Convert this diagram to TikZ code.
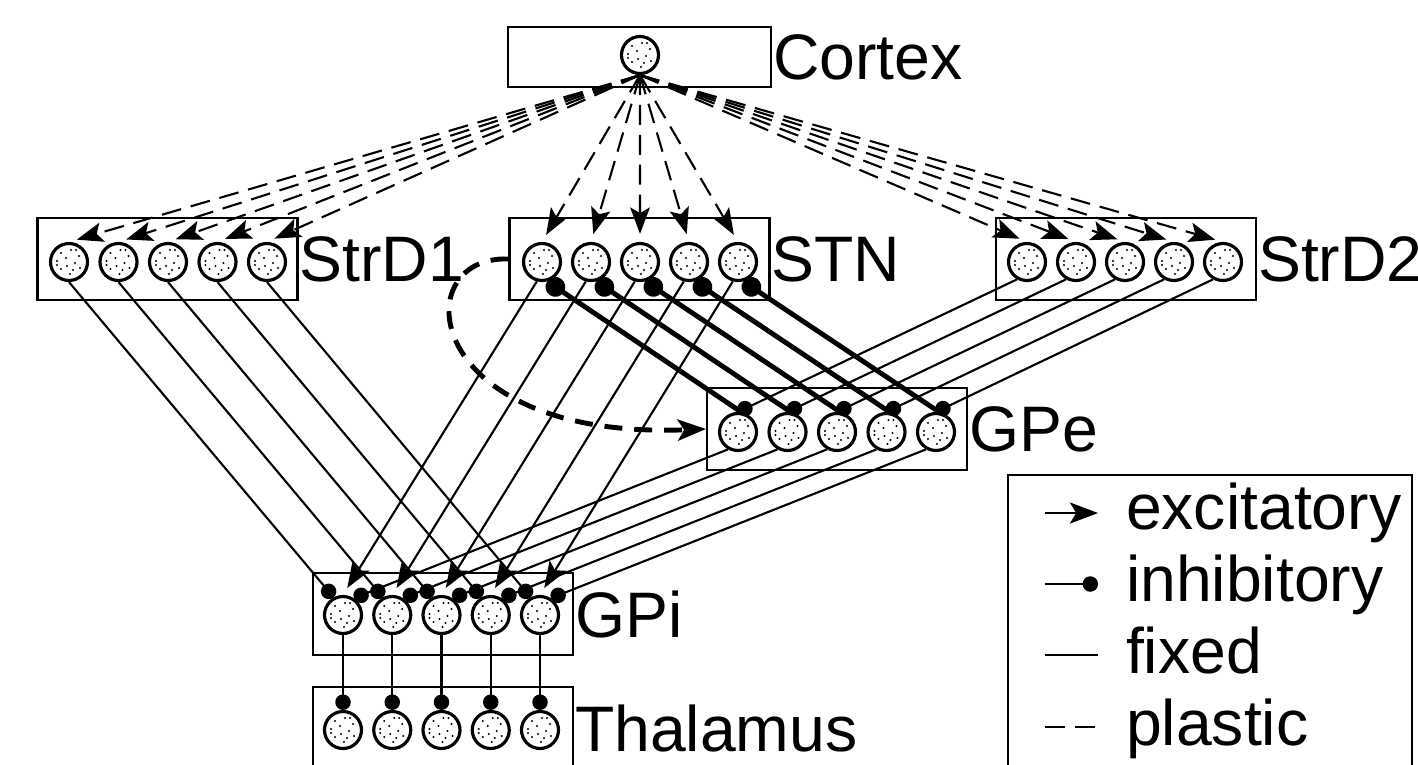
\documentclass[tikz,border=0pt]{standalone}
\usepackage{fontspec}
\setmainfont{Liberation Sans}
\usetikzlibrary{arrows.meta}

\begin{document}
\begin{tikzpicture}[line width=0.6pt,
  neuron/.style={circle, draw, line width=0.9pt, fill=white, minimum size=0.37cm, inner sep=0pt,
    path picture={\foreach \dx/\dy in {-0.08/0.09, 0.02/0.12, 0.10/0.06, -0.12/0.01, -0.03/0.04,
        0.06/-0.01, -0.08/-0.07, 0.01/-0.12, 0.11/-0.06, -0.02/-0.04, 0.07/0.12, 0.04/-0.08, -0.12/-0.03}
      \fill[black] ([shift={(\dx,\dy)}]path picture bounding box.center) circle (0.012);}},
  layer/.style={draw, line width=0.6pt, minimum width=2.6cm, minimum height=0.82cm, inner sep=0pt},
  lbl/.style={anchor=west, inner sep=0pt, font=\fontsize{18.3}{22}\selectfont},
  exc/.style={-{Stealth[length=7.5pt,width=5.6pt,inset=1.6pt]}},
  inh/.style={-{Circle[length=4.4pt]}},
  plastic/.style={dash pattern=on 5.7pt off 2.8pt}]

  \useasboundingbox (0,0) rectangle (14.18,7.64);

  \node[layer, minimum width=2.63cm, minimum height=0.6cm] (Cx) at (6.395,7.07) {};
  \node[neuron] (c) at (6.40,7.09) {};

  \node[layer] (D1) at (1.675,5.05) {};
  \node[layer] (S) at (6.395,5.05) {};
  \node[layer] (D2) at (11.26,5.05) {};
  \node[layer] (E) at (8.37,3.35) {};
  \node[layer] (I) at (4.43,1.50) {};
  \node[layer] (T) at (4.43,0.36) {};

  \foreach \i in {1,...,5} {
    \node[neuron] (D1-\i) at ({0.69+0.495*(\i-1)},5.02) {};
    \node[neuron] (S-\i) at ({5.42+0.49*(\i-1)},5.02) {};
    \node[neuron] (D2-\i) at ({10.27+0.49*(\i-1)},5.02) {};
    \node[neuron] (E-\i) at ({7.38+0.495*(\i-1)},3.32) {};
    \node[neuron] (I-\i) at ({3.43+0.4925*(\i-1)},1.49) {};
    \node[neuron] (T-\i) at ({3.43+0.4925*(\i-1)},0.34) {};
  }

  \node[lbl] (Cxl) at (Cx.east) {Cortex};
  \node[lbl] (D1l) at (D1.east) {StrD1};
  \node[lbl] (Sl) at (S.east) {STN};
  \node[lbl] (D2l) at (D2.east) {StrD2};
  \node[lbl] (El) at (E.east) {GPe};
  \node[lbl] (Il) at (I.east) {GPi};
  \node[lbl] (Tl) at (T.east) {Thalamus};

  \foreach \i in {1,...,5} {
    \draw[exc, plastic, shorten >=2.3pt] (c.south) -- (D1-\i.north);
    \draw[exc, plastic, shorten >=2.3pt] (c.south) -- (S-\i.north);
    \draw[exc, plastic, shorten >=2.3pt] (c.south) -- (D2-\i.north);
    \draw[inh] (D1-\i.south) -- (I-\i.118);
    \draw[exc, shorten >=2.3pt] (S-\i.255) -- (I-\i.north);
    \draw[inh] (D2-\i.240) -- (E-\i.north);
    \draw[-{Circle[length=5.6pt]}, line width=1.4pt] (E-\i.80) -- (S-\i.285);
    \draw[inh] (E-\i.240) -- (I-\i.57);
    \draw[inh] (I-\i.south) -- (T-\i.north);
  }
  \draw[-{Stealth[length=8pt,width=6pt,inset=1.8pt]}, line width=1.4pt, dash pattern=on 5.1pt off 3.4pt]
    (S.west) .. controls (4.05,5.09) and (4.20,3.24) .. (E.west);

  \draw[line width=0.8pt] (10.08,2.89) rectangle (14.12,-0.3);
  \node[lbl, anchor=base west] (kexc) at (11.25,2.35) {excitatory};
  \node[lbl, anchor=base west] (kinh) at (11.25,1.63) {inhibitory};
  \node[lbl, anchor=base west] (kfix) at (11.25,0.91) {fixed};
  \node[lbl, anchor=base west] (kpla) at (11.25,0.19) {plastic};
  \draw[-{Stealth[length=8pt,width=6pt,inset=1.8pt]}] (10.45,2.51) -- (10.98,2.51);
  \draw[inh] (10.45,1.80) -- (10.98,1.80);
  \draw (10.45,1.09) -- (10.98,1.09);
  \draw[plastic] (10.45,0.37) -- (10.98,0.37);
\end{tikzpicture}
\end{document}
